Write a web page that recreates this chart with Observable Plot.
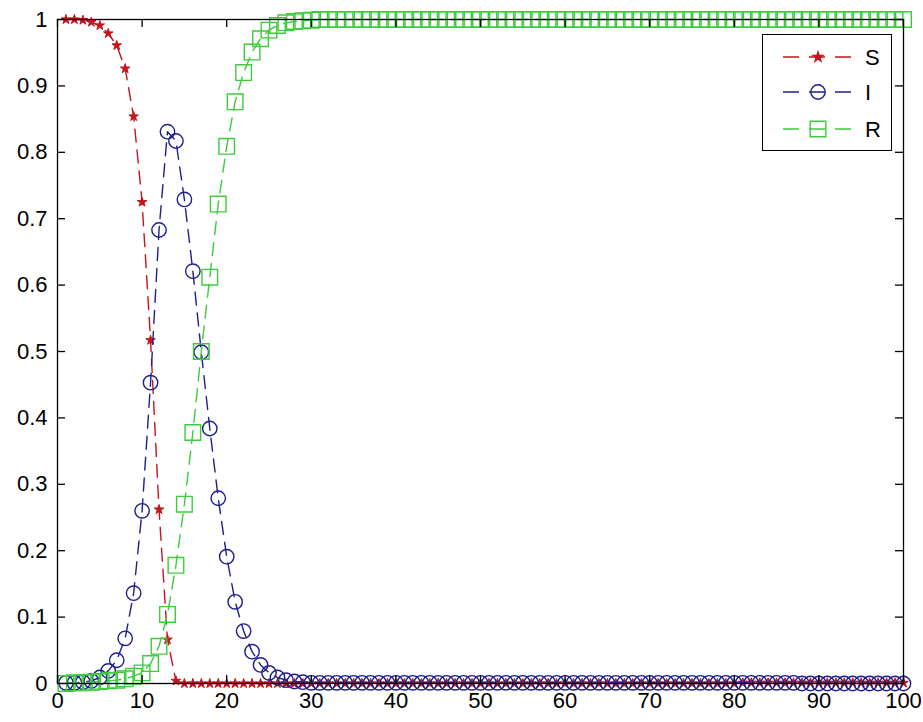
<!DOCTYPE html>
<html>
<head>
<meta charset="utf-8">
<script src="https://cdn.jsdelivr.net/npm/d3@7"></script>
<script src="https://cdn.jsdelivr.net/npm/@observablehq/plot@0.6"></script>
<style>
  html, body { margin: 0; padding: 0; background: #fff; }
  #wrap { position: relative; width: 923px; height: 722px; overflow: hidden; background: #fff; }
  #legend { position: absolute; left: 762px; top: 34px; width: 130px; height: 117px; border: 1.5px solid #000; background: #fff; box-sizing: border-box; }
</style>
</head>
<body>
<div id="wrap"><div id="chart"></div><div id="legend"></div></div>
<script>
// time steps
const tValues = [
  1,2,3,4,5,6,7,8,9,10,11,12,13,14,15,16,17,18,19,20,
  21,22,23,24,25,26,27,28,29,30,31,32,33,34,35,36,37,38,39,40,
  41,42,43,44,45,46,47,48,49,50,51,52,53,54,55,56,57,58,59,60,
  61,62,63,64,65,66,67,68,69,70,71,72,73,74,75,76,77,78,79,80,
  81,82,83,84,85,86,87,88,89,90,91,92,93,94,95,96,97,98,99,100
];
// Susceptible
const sValues = [
  1.000,1.000,0.999,0.996,0.991,0.979,0.961,0.926,0.854,0.725,
  0.517,0.262,0.066,0.004,0.000,0.000,0.000,0.000,0.000,0.000,
  0.000,0.000,0.000,0.000,0.000,0.000,0.000,0.000,0.000,0.000,
  0.000,0.000,0.000,0.000,0.000,0.000,0.000,0.000,0.000,0.000,
  0.000,0.000,0.000,0.000,0.000,0.000,0.000,0.000,0.000,0.000,
  0.000,0.000,0.000,0.000,0.000,0.000,0.000,0.000,0.000,0.000,
  0.000,0.000,0.000,0.000,0.000,0.000,0.000,0.000,0.000,0.000,
  0.000,0.000,0.000,0.000,0.000,0.000,0.000,0.000,0.000,0.000,
  0.001,0.001,0.001,0.001,0.001,0.001,0.001,0.001,0.001,0.001,
  0.001,0.001,0.001,0.001,0.001,0.001,0.001,0.001,0.001,0.001
];
// Infected
const iValues = [
  0.001,0.001,0.002,0.004,0.009,0.019,0.035,0.068,0.136,0.260,
  0.453,0.683,0.831,0.817,0.729,0.621,0.499,0.384,0.279,0.191,
  0.123,0.079,0.048,0.028,0.016,0.009,0.005,0.003,0.002,0.001,
  0.001,0.001,0.001,0.001,0.001,0.001,0.001,0.001,0.001,0.001,
  0.001,0.001,0.001,0.001,0.001,0.001,0.001,0.001,0.001,0.001,
  0.001,0.001,0.001,0.001,0.001,0.001,0.001,0.001,0.001,0.001,
  0.001,0.001,0.001,0.001,0.001,0.001,0.001,0.001,0.001,0.001,
  0.001,0.001,0.001,0.001,0.001,0.001,0.001,0.001,0.001,0.001,
  0.001,0.001,0.001,0.001,0.001,0.001,0.001,0.000,0.000,0.000,
  0.000,0.000,0.000,0.000,0.000,0.000,0.000,0.000,0.000,0.000
];
// Recovered
const rValues = [
  0.000,0.001,0.001,0.002,0.003,0.004,0.005,0.007,0.011,0.016,
  0.030,0.056,0.104,0.178,0.270,0.378,0.500,0.612,0.722,0.809,
  0.876,0.920,0.951,0.971,0.984,0.991,0.995,0.997,0.998,0.999,
  1.000,1.000,1.000,1.000,1.000,1.000,1.000,1.000,1.000,1.000,
  1.000,1.000,1.000,1.000,1.000,1.000,1.000,1.000,1.000,1.000,
  1.000,1.000,1.000,1.000,1.000,1.000,1.000,1.000,1.000,1.000,
  1.000,1.000,1.000,1.000,1.000,1.000,1.000,1.000,1.000,1.000,
  1.000,1.000,1.000,1.000,1.000,1.000,1.000,1.000,1.000,1.000,
  1.000,1.000,1.000,1.000,1.000,1.000,1.000,1.000,1.000,1.000,
  1.000,1.000,1.000,1.000,1.000,1.000,1.000,1.000,1.000,1.000
];
const seriesNames = ["S", "I", "R"];
const xTicks = [0,10,20,30,40,50,60,70,80,90,100];
const xTickLabels = ["0","10","20","30","40","50","60","70","80","90","100"];
const yTicks = [0,0.1,0.2,0.3,0.4,0.5,0.6,0.7,0.8,0.9,1];
const yTickLabels = ["0","0.1","0.2","0.3","0.4","0.5","0.6","0.7","0.8","0.9","1"];

const colors = {S: "#c4141c", I: "#1e1e8e", R: "#3ccc3c"};
const symbols = {S: "star", I: "circle", R: "square"};
const radii = {S: 3.0, I: 7.2, R: 8.8};
const dash = "13,8";

const valuesBy = {S: sValues, I: iValues, R: rValues};
const tables = {};
for (const name of seriesNames) {
  tables[name] = tValues.map((t, k) => ({t, v: valuesBy[name][k]}));
}

const W = 923, H = 722;
const mL = 57, mR = 20, mT = 19, mB = 39;
const innerW = W - mL - mR, innerH = H - mT - mB;
const tickLen = 8;

const marks = [];
for (const name of seriesNames) {
  marks.push(Plot.line(tables[name], {x: "t", y: "v", stroke: colors[name], strokeWidth: 1.4, strokeDasharray: dash}));
  marks.push(Plot.dot(tables[name], {
    x: "t", y: "v", symbol: () => symbols[name], r: radii[name],
    stroke: colors[name], strokeWidth: name === "S" ? 1 : 1.4,
    fill: name === "S" ? colors[name] : "none"
  }));
}

const plot = Plot.plot({
  width: W, height: H,
  marginLeft: mL, marginRight: mR, marginTop: mT, marginBottom: mB,
  style: {fontFamily: "'Liberation Sans', Arial, sans-serif", fontSize: "22px", background: "#fff", color: "#000"},
  x: {domain: [0, 100]},
  y: {domain: [0, 1]},
  symbol: {type: "identity"},
  marks: [
    ...marks,
    Plot.frame({stroke: "#000", strokeWidth: 1.3}),
    Plot.tickX(xTicks, {x: d => d, insetTop: innerH - tickLen, stroke: "#000", strokeWidth: 1.3}),
    Plot.tickX(xTicks, {x: d => d, insetBottom: innerH - tickLen, stroke: "#000", strokeWidth: 1.3}),
    Plot.tickY(yTicks, {y: d => d, insetRight: innerW - tickLen, stroke: "#000", strokeWidth: 1.3}),
    Plot.tickY(yTicks, {y: d => d, insetLeft: innerW - tickLen, stroke: "#000", strokeWidth: 1.3}),
    Plot.axisX({ticks: xTicks, tickSize: 0, tickPadding: 9, label: null, fontSize: 22,
      tickFormat: d => xTickLabels[xTicks.indexOf(d)]}),
    Plot.axisY({ticks: yTicks, tickSize: 0, tickPadding: 10, label: null, fontSize: 22,
      tickFormat: d => yTickLabels[yTicks.indexOf(d)]})
  ]
});
document.getElementById("chart").appendChild(plot);

// Legend (inside the axes, top-right)
const lg = d3.select("#legend").append("svg").attr("width", 127).attr("height", 114)
  .style("display", "block");
const rowY = [22, 57, 94];
const sym = {
  S: d3.symbol(d3.symbolStar, Math.PI * radii.S * radii.S),
  I: d3.symbol(d3.symbolCircle, Math.PI * radii.I * radii.I),
  R: d3.symbol(d3.symbolSquare, Math.PI * radii.R * radii.R)
};
seriesNames.forEach((name, k) => {
  const g = lg.append("g").attr("transform", `translate(0,${rowY[k]})`);
  g.append("line").attr("x1", 20).attr("x2", 92).attr("y1", 0).attr("y2", 0)
    .attr("stroke", colors[name]).attr("stroke-width", 1.4).attr("stroke-dasharray", "16,10");
  g.append("path").attr("d", sym[name]()).attr("transform", "translate(55,0)")
    .attr("stroke", colors[name]).attr("stroke-width", 1.4)
    .attr("fill", name === "S" ? colors[name] : "none");
  g.append("text").attr("x", 102).attr("y", 0).attr("dy", "0.36em")
    .attr("font-family", "'Liberation Sans', Arial, sans-serif").attr("font-size", 22)
    .text(name);
});
</script>
</body>
</html>
